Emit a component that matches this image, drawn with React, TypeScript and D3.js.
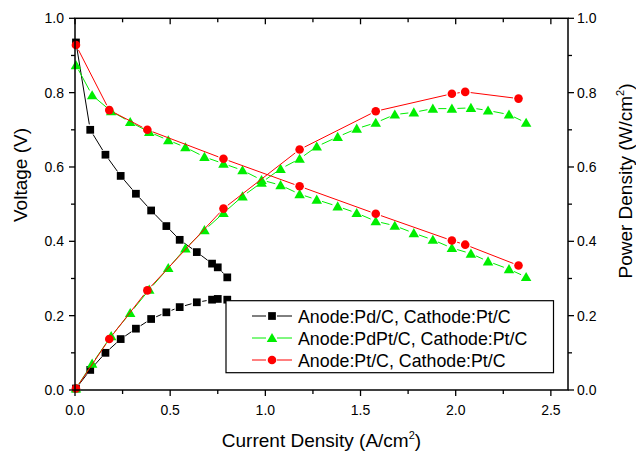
import { scaleLinear, range, symbol, symbolSquare, symbolTriangle, symbolCircle } from 'd3'

// current density (A/cm2), voltage (V), power density (W/cm2)
const pdCurrent = [0.005, 0.08, 0.16, 0.24, 0.32, 0.40, 0.48, 0.55, 0.64, 0.72, 0.75, 0.80]
const pdVoltage = [0.935, 0.70, 0.633, 0.576, 0.528, 0.483, 0.441, 0.404, 0.371, 0.340, 0.330, 0.303]
const pdPower = [0.004, 0.054, 0.100, 0.137, 0.165, 0.191, 0.209, 0.223, 0.236, 0.243, 0.245, 0.243]

const pdptCurrent = [0.005, 0.09, 0.19, 0.29, 0.39, 0.49, 0.58, 0.68, 0.78, 0.88, 0.98, 1.08, 1.18, 1.27, 1.38, 1.48, 1.58, 1.68, 1.78, 1.88, 1.98, 2.08, 2.17, 2.28, 2.37]
const pdptVoltage = [0.874, 0.793, 0.750, 0.721, 0.694, 0.672, 0.653, 0.627, 0.609, 0.591, 0.565, 0.551, 0.527, 0.512, 0.494, 0.476, 0.454, 0.442, 0.422, 0.404, 0.382, 0.367, 0.346, 0.325, 0.304]
const pdptPower = [0.004, 0.071, 0.145, 0.207, 0.270, 0.328, 0.381, 0.430, 0.476, 0.521, 0.558, 0.595, 0.622, 0.655, 0.681, 0.703, 0.719, 0.741, 0.747, 0.757, 0.757, 0.759, 0.752, 0.741, 0.719]

const ptCurrent = [0.005, 0.18, 0.38, 0.78, 1.18, 1.58, 1.98, 2.05, 2.33]
const ptVoltage = [0.928, 0.753, 0.700, 0.622, 0.548, 0.474, 0.402, 0.391, 0.335]
const ptPower = [0.004, 0.137, 0.268, 0.488, 0.647, 0.750, 0.797, 0.802, 0.784]

const legendLabels = ['Anode:Pd/C, Cathode:Pt/C', 'Anode:PdPt/C, Cathode:Pt/C', 'Anode:Pt/C, Cathode:Pt/C']
const xTicks = [0, 0.5, 1.0, 1.5, 2.0, 2.5]
const yTicks = [0, 0.2, 0.4, 0.6, 0.8, 1.0]

const font = '"Liberation Sans", Arial, Helvetica, sans-serif'

type Series = { current: number[], voltage: number[], power: number[], color: string, shape: any, size: number }

const series: Series[] = [
  { current: pdCurrent, voltage: pdVoltage, power: pdPower, color: '#000000', shape: symbolSquare, size: 60 },
  { current: pdptCurrent, voltage: pdptVoltage, power: pdptPower, color: '#00ee00', shape: symbolTriangle, size: 48 },
  { current: ptCurrent, voltage: ptVoltage, power: ptPower, color: '#ff0000', shape: symbolCircle, size: 58 },
]

const App = () => {
  const width = 636
  const height = 453
  const left = 75
  const right = 568
  const top = 18.3
  const bottom = 390

  const x = scaleLinear().domain([0, 2.59]).range([left, right])
  const y = scaleLinear().domain([0, 1]).range([bottom, top])

  const gap = 5.5

  // line broken into segments with a gap around every symbol
  const gappedSegments = (pts: [number, number][], color: string, key: string) => {
    const out: any[] = []
    for (let i = 0; i < pts.length - 1; i++) {
      const [x1, y1] = pts[i]
      const [x2, y2] = pts[i + 1]
      const len = Math.hypot(x2 - x1, y2 - y1)
      if (len <= gap * 2) continue
      const ux = (x2 - x1) / len
      const uy = (y2 - y1) / len
      out.push(<line key={key + i} x1={x1 + ux * gap} y1={y1 + uy * gap} x2={x2 - ux * gap} y2={y2 - uy * gap}
        stroke={color} strokeWidth={1} />)
    }
    return out
  }

  const minorX = range(0, 2.6, 0.25).filter(v => Math.abs(v % 0.5) > 0.01)
  const minorY = range(0.1, 1.0, 0.2)

  return (
    <svg width={width} height={height} style={{ position: 'absolute', left: 0, top: 0, background: '#fff' }}
      fontFamily={font}>
      {series.map((s, si) => {
        const vPts = s.current.map((c, i) => [x(c), y(s.voltage[i])] as [number, number])
        const pPts = s.current.map((c, i) => [x(c), y(s.power[i])] as [number, number])
        const path = symbol(s.shape, s.size)() as string
        return (
          <g key={si}>
            {gappedSegments(vPts, s.color, 'v')}
            {gappedSegments(pPts, s.color, 'p')}
            {[...vPts, ...pPts].map(([px, py], i) => (
              <path key={i} d={path} transform={`translate(${px},${py + (s.shape === symbolTriangle ? 1 : 0)})`} fill={s.color} />
            ))}
          </g>
        )
      })}

      {/* frame */}
      <rect x={left} y={top} width={right - left} height={bottom - top} fill="none" stroke="#000" strokeWidth={1.5} />

      {/* x ticks */}
      {xTicks.map(t => (
        <g key={'xt' + t}>
          <line x1={x(t)} x2={x(t)} y1={bottom} y2={bottom + 6} stroke="#000" strokeWidth={1.3} />
          <line x1={x(t)} x2={x(t)} y1={top} y2={top + 6} stroke="#000" strokeWidth={1.3} />
          <text x={x(t)} y={415} textAnchor="middle" fontSize={14}>{t.toFixed(1)}</text>
        </g>
      ))}
      {minorX.map(t => (
        <g key={'xm' + t}>
          <line x1={x(t)} x2={x(t)} y1={bottom} y2={bottom + 4} stroke="#000" strokeWidth={1.3} />
          <line x1={x(t)} x2={x(t)} y1={top} y2={top + 4} stroke="#000" strokeWidth={1.3} />
        </g>
      ))}

      {/* y ticks, both sides */}
      {yTicks.map(t => (
        <g key={'yt' + t}>
          <line x1={left - 6} x2={left} y1={y(t)} y2={y(t)} stroke="#000" strokeWidth={1.3} />
          <line x1={right} x2={right + 6} y1={y(t)} y2={y(t)} stroke="#000" strokeWidth={1.3} />
          <text x={64} y={y(t) + 5} textAnchor="end" fontSize={14}>{t.toFixed(1)}</text>
          <text x={577} y={y(t) + 5} textAnchor="start" fontSize={14}>{t.toFixed(1)}</text>
        </g>
      ))}
      {minorY.map(t => (
        <g key={'ym' + t}>
          <line x1={left - 4} x2={left} y1={y(t)} y2={y(t)} stroke="#000" strokeWidth={1.3} />
          <line x1={right} x2={right + 4} y1={y(t)} y2={y(t)} stroke="#000" strokeWidth={1.3} />
        </g>
      ))}

      {/* axis titles */}
      <text x={(left + right) / 2} y={447} textAnchor="middle" fontSize={19}>
        Current Density (A/cm<tspan dy={-8} fontSize={11}>2</tspan><tspan dy={8}>)</tspan>
      </text>
      <text transform="translate(27,175) rotate(-90)" textAnchor="middle" fontSize={19}>Voltage (V)</text>
      <text transform="translate(632,181) rotate(-90)" textAnchor="middle" fontSize={19}>
        Power Density (W/cm<tspan dy={-8} fontSize={11}>2</tspan><tspan dy={8}>)</tspan>
      </text>

      {/* legend */}
      <rect x={226} y={300.7} width={327.5} height={72} fill="#fff" stroke="#000" strokeWidth={1.2} />
      {series.map((s, i) => {
        const cy = 316 + i * 22
        return (
          <g key={'lg' + i}>
            <line x1={252} x2={266} y1={cy} y2={cy} stroke={s.color} strokeWidth={1} />
            <line x1={277} x2={292} y1={cy} y2={cy} stroke={s.color} strokeWidth={1} />
            <path d={symbol(s.shape, s.size)() as string} transform={`translate(272,${cy + (s.shape === symbolTriangle ? 1 : 0)})`} fill={s.color} />
            <text x={298} y={cy + 6.5} fontSize={17.8}>{legendLabels[i]}</text>
          </g>
        )
      })}
    </svg>
  )
}

export default App
